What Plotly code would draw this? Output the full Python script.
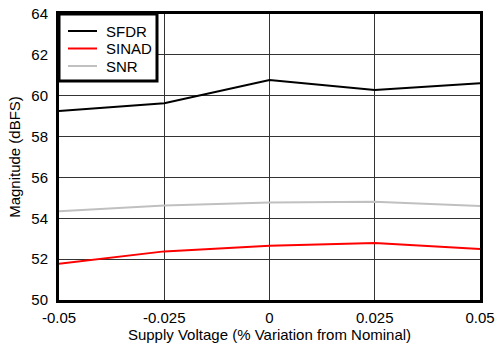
import plotly.graph_objects as go

x_vals = [-0.05, -0.025, 0, 0.025, 0.05]
sfdr = [59.25, 59.63, 60.77, 60.28, 60.61]
sinad = [51.78, 52.38, 52.66, 52.79, 52.5]
snr = [54.34, 54.63, 54.77, 54.81, 54.6]
series_names = ["SFDR", "SINAD", "SNR"]
series_colors = ["#000000", "#ff0000", "#c0c0c0"]
x_ticks = [-0.05, -0.025, 0, 0.025, 0.05]
x_tick_text = ["-0.05", "-0.025", "0", "0.025", "0.05"]
y_ticks = [50, 52, 54, 56, 58, 60, 62, 64]

fam = "Liberation Sans, Arial, sans-serif"
fig = go.Figure()
for name, vals, col in zip(series_names, [sfdr, sinad, snr], series_colors):
    fig.add_trace(go.Scatter(x=x_vals, y=vals, mode="lines", name=name,
                             line=dict(color=col, width=2), showlegend=False))

# manual legend box (paper coordinates)
W, H = 496 - 59 - 16, 343 - 14 - 43
def px(xp):
    return xp / W
def py(yp):
    return 1 - yp / H

fig.add_shape(type="rect", xref="paper", yref="paper",
              x0=px(0), x1=px(98), y0=py(67), y1=py(0),
              line=dict(color="black", width=3), fillcolor="white", layer="above")
for i, (name, col) in enumerate(zip(series_names, series_colors)):
    yy = py(17 + 17.5 * i)
    fig.add_shape(type="line", xref="paper", yref="paper",
                  x0=px(9), x1=px(38), y0=yy, y1=yy,
                  line=dict(color=col, width=2), layer="above")
    fig.add_annotation(xref="paper", yref="paper", x=px(45), y=yy,
                       text=name, showarrow=False, xanchor="left", yanchor="middle",
                       font=dict(family=fam, size=15, color="black"))

fig.update_layout(
    width=496, height=343,
    margin=dict(l=59, r=16, t=14, b=43, autoexpand=False),
    plot_bgcolor="white", paper_bgcolor="white",
    font=dict(family=fam, size=15, color="black"),
    showlegend=False,
    xaxis=dict(range=[-0.05, 0.05], tickvals=x_ticks, ticktext=x_tick_text,
               showgrid=True, gridcolor="#333333", gridwidth=1,
               showline=True, linecolor="black", linewidth=3, mirror=True,
               ticks="", zeroline=False, automargin=False, ticklabelstandoff=2,
               title=dict(text="Supply Voltage (% Variation from Nominal)", standoff=3,
                          font=dict(size=15))),
    yaxis=dict(range=[50, 64], tickvals=y_ticks,
               showgrid=True, gridcolor="#333333", gridwidth=1,
               showline=True, linecolor="black", linewidth=3, mirror=True,
               ticks="", zeroline=False, automargin=False, ticklabelstandoff=5,
               title=dict(text="Magnitude (dBFS)", standoff=8, font=dict(size=15))),
)
fig.write_html("out.html", config={"displayModeBar": False},
               post_script="document.body.style.margin='0';")
